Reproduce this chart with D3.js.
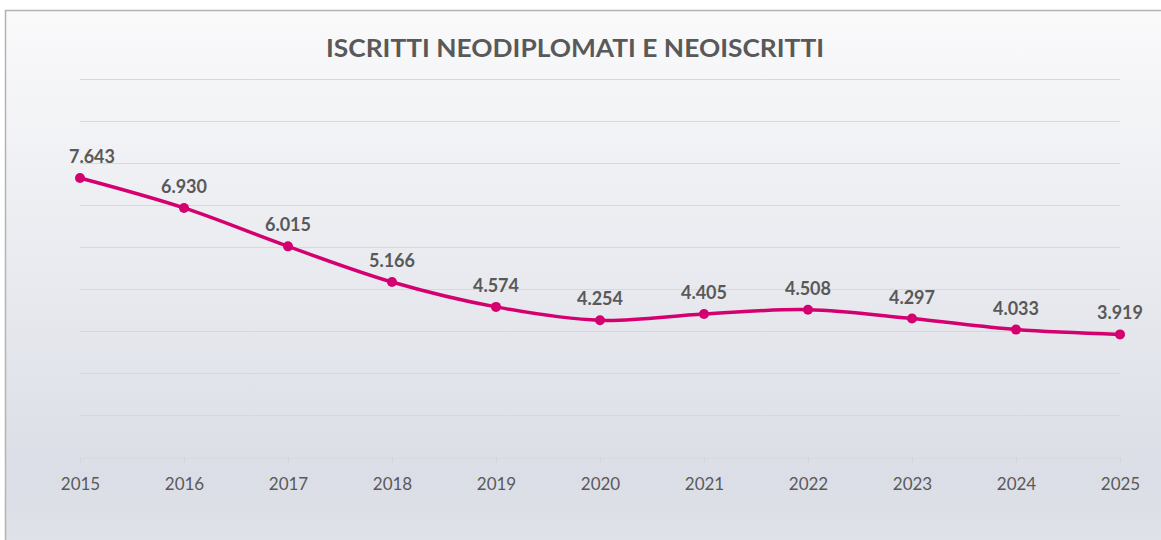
<!DOCTYPE html>
<html>
<head>
<meta charset="utf-8">
<script src="https://cdn.jsdelivr.net/npm/d3@7"></script>
<style>
  body { margin: 0; background: #fff; }
  svg { display: block; font-family: "Lato", "Open Sans", sans-serif; }
</style>
</head>
<body>
<svg id="chart" width="1161" height="540"></svg>
<script>
// data
var years = ["2015", "2016", "2017", "2018", "2019", "2020", "2021", "2022", "2023", "2024", "2025"];
var values = [7643, 6930, 6015, 5166, 4574, 4254, 4405, 4508, 4297, 4033, 3919];
var yTicks = [1000, 2000, 3000, 4000, 5000, 6000, 7000, 8000, 9000, 10000];
var title = "ISCRITTI NEODIPLOMATI E NEOISCRITTI";

var width = 1161, height = 540;
var plotLeft = 80, plotRight = 1120, plotTop = 79, plotBottom = 457;
var lineColor = "#D5006F";
var textColor = "#595959";

var svg = d3.select("#chart");

// background gradient
var defs = svg.append("defs");
var grad = defs.append("linearGradient")
    .attr("id", "bg")
    .attr("x1", 0).attr("y1", 0).attr("x2", 0).attr("y2", 1);
grad.append("stop").attr("offset", "0%").attr("stop-color", "#FAFAFB");
grad.append("stop").attr("offset", "85%").attr("stop-color", "#DBDEE6");
grad.append("stop").attr("offset", "100%").attr("stop-color", "#E1E3EA");

svg.append("rect")
    .attr("x", 5.5).attr("y", 10.5)
    .attr("width", width + 10).attr("height", height + 10)
    .attr("fill", "url(#bg)")
    .attr("stroke", "#B3B3B3")
    .attr("stroke-width", 1.5);

var x = d3.scalePoint().domain(years).range([plotLeft, plotRight]);
var y = d3.scaleLinear().domain([1000, 10000]).range([plotBottom, plotTop]);

// gridlines
svg.append("g")
    .selectAll("line")
    .data(yTicks.slice(1))
    .join("line")
      .attr("x1", plotLeft).attr("x2", plotRight)
      .attr("y1", function(d) { return Math.round(y(d)) + 0.5; })
      .attr("y2", function(d) { return Math.round(y(d)) + 0.5; })
      .attr("stroke", "#D6D8DC")
      .attr("stroke-width", 1);

// x axis
var xAxis = svg.append("g")
    .attr("transform", "translate(0," + (Math.round(y(1000)) + 0.5) + ")")
    .call(d3.axisBottom(x).tickSize(6).tickSizeOuter(0).tickPadding(14));
xAxis.select(".domain").attr("stroke", "#D4D6D9");
xAxis.selectAll(".tick line").attr("stroke", "#D4D6D9");
xAxis.selectAll(".tick text")
    .attr("fill", textColor)
    .attr("font-size", 17)
    .attr("font-family", "Lato, 'Open Sans', sans-serif");

// title
svg.append("text")
    .attr("x", 575).attr("y", 57)
    .attr("text-anchor", "middle")
    .attr("fill", textColor)
    .attr("font-size", 25)
    .attr("font-weight", "bold")
    .attr("textLength", 498)
    .attr("lengthAdjust", "spacingAndGlyphs")
    .text(title);

var points = years.map(function(yr, i) { return {year: yr, value: values[i]}; });

// smoothed line
var line = d3.line()
    .x(function(d) { return x(d.year); })
    .y(function(d) { return y(d.value); })
    .curve(d3.curveCatmullRom.alpha(0));

svg.append("path")
    .datum(points)
    .attr("d", line)
    .attr("fill", "none")
    .attr("stroke", lineColor)
    .attr("stroke-width", 3.5)
    .attr("stroke-linecap", "round");

svg.append("g")
    .selectAll("circle")
    .data(points)
    .join("circle")
      .attr("cx", function(d) { return x(d.year); })
      .attr("cy", function(d) { return y(d.value); })
      .attr("r", 5)
      .attr("fill", lineColor);

// data labels
var fmt = function(v) { return d3.format(",")(v).replace(/,/g, "."); };
svg.append("g")
    .selectAll("text")
    .data(points)
    .join("text")
      .attr("x", function(d, i) { return i === 0 ? x(d.year) + 12 : x(d.year); })
      .attr("y", function(d) { return y(d.value) - 15; })
      .attr("text-anchor", "middle")
      .attr("fill", textColor)
      .attr("font-size", 18)
      .attr("font-weight", "bold")
      .text(function(d) { return fmt(d.value); });
</script>
</body>
</html>
